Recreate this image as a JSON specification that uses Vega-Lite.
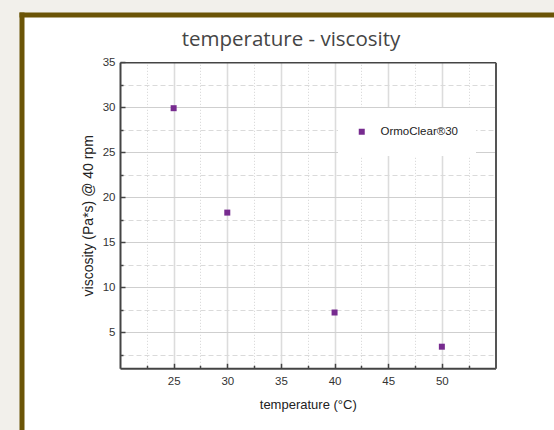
{
  "$schema": "https://vega.github.io/schema/vega-lite/v6.json",
  "width": 530,
  "height": 413,
  "autosize": {"type": "none"},
  "padding": {"left": 24, "top": 17, "right": 0, "bottom": 0},
  "background": "#f2f0eb",
  "title": {"text": "temperature - viscosity", "font": "Open Sans", "fontSize": 20.5, "fontWeight": "normal", "color": "#454545", "anchor": "middle", "frame": "group", "baseline": "alphabetic", "offset": -52, "dx": 2},
  "data": {"values": [
    {"temperature": 25, "viscosity": 29.9, "series": "OrmoClear®30"},
    {"temperature": 30, "viscosity": 18.3, "series": "OrmoClear®30"},
    {"temperature": 40, "viscosity": 7.2, "series": "OrmoClear®30"},
    {"temperature": 50, "viscosity": 3.4, "series": "OrmoClear®30"}
  ]},
  "resolve": {
    "scale": {"x": "independent", "y": "independent", "color": "independent"},
    "axis": {"x": "independent", "y": "independent"}
  },
  "layer": [
    {
      "mark": {"type": "point", "opacity": 0},
      "encoding": {
        "x": {"field": "temperature", "type": "quantitative",
          "scale": {"domain": [20, 55], "range": [96, 471.5], "nice": false, "zero": false},
          "axis": {"orient": "top", "offset": -351.3, "values": [25, 30, 35, 40, 45, 50], "domain": false, "labels": false, "ticks": true, "tickSize": 5, "tickColor": "#444444", "tickWidth": 1.5, "grid": true, "gridColor": "#dcdcdc", "gridWidth": 1.6, "title": null}},
        "y": {"field": "viscosity", "type": "quantitative",
          "scale": {"domain": [1, 35], "range": [351.3, 45.3], "nice": false, "zero": false},
          "axis": {"orient": "left", "offset": -96, "values": [5, 10, 15, 20, 25, 30, 35], "domain": true, "domainColor": "#444444", "domainWidth": 2, "ticks": false, "labels": true, "labelPadding": 5, "labelFont": "Liberation Sans", "labelFontSize": 11.5, "labelColor": "#333333", "grid": true, "gridColor": "#cfcfcf", "gridWidth": 1, "title": "viscosity (Pa*s) @ 40 rpm", "titleFont": "Liberation Sans", "titleFontSize": 14, "titleFontWeight": "normal", "titleColor": "#222222", "titlePadding": 7}}
      }
    },
    {
      "mark": {"type": "point", "opacity": 0},
      "encoding": {
        "x": {"field": "temperature", "type": "quantitative",
          "scale": {"domain": [20, 55], "range": [96, 471.5], "nice": false, "zero": false},
          "axis": {"orient": "top", "offset": -351.3, "values": [22.5, 27.5, 32.5, 37.5, 42.5, 47.5, 52.5], "domain": false, "labels": false, "ticks": true, "tickSize": 3, "tickColor": "#444444", "tickWidth": 1.5, "grid": true, "gridColor": "#d4d4d4", "gridWidth": 1, "gridDash": [1, 2], "title": null}},
        "y": {"field": "viscosity", "type": "quantitative",
          "scale": {"domain": [1, 35], "range": [351.3, 45.3], "nice": false, "zero": false},
          "axis": {"orient": "right", "offset": -434, "values": [5, 10, 15, 20, 25, 30, 35], "domain": false, "labels": false, "ticks": true, "tickSize": 5, "tickColor": "#444444", "tickWidth": 1.5, "grid": false, "title": null}}
      }
    },
    {
      "mark": {"type": "point", "opacity": 0},
      "encoding": {
        "x": {"field": "temperature", "type": "quantitative",
          "scale": {"domain": [20, 55], "range": [96, 471.5], "nice": false, "zero": false},
          "axis": {"orient": "bottom", "offset": -61.7, "values": [25, 30, 35, 40, 45, 50], "domain": true, "domainColor": "#444444", "domainWidth": 2, "ticks": false, "labels": true, "labelPadding": 7, "labelFont": "Liberation Sans", "labelFontSize": 11.5, "labelColor": "#333333", "grid": false, "title": "temperature (°C)", "titleFont": "Liberation Sans", "titleFontSize": 13, "titleFontWeight": "normal", "titleColor": "#222222", "titlePadding": 12}},
        "y": {"field": "viscosity", "type": "quantitative",
          "scale": {"domain": [1, 35], "range": [351.3, 45.3], "nice": false, "zero": false},
          "axis": {"orient": "left", "offset": -96, "values": [2.5, 7.5, 12.5, 17.5, 22.5, 27.5, 32.5], "domain": false, "labels": false, "ticks": false, "grid": true, "gridColor": "#dadada", "gridWidth": 1, "gridDash": [5, 3], "title": null}}
      }
    },
    {
      "mark": {"type": "point", "opacity": 0},
      "encoding": {
        "x": {"field": "temperature", "type": "quantitative",
          "scale": {"domain": [20, 55], "range": [96, 471.5], "nice": false, "zero": false},
          "axis": {"orient": "top", "offset": -45.3, "domain": true, "domainColor": "#444444", "domainWidth": 1.6, "labels": false, "ticks": false, "grid": false, "title": null}},
        "y": {"field": "viscosity", "type": "quantitative",
          "scale": {"domain": [1, 35], "range": [351.3, 45.3], "nice": false, "zero": false},
          "axis": {"orient": "right", "offset": -434, "values": [2.5, 7.5, 12.5, 17.5, 22.5, 27.5, 32.5], "domain": false, "labels": false, "ticks": true, "tickSize": 3, "tickColor": "#444444", "tickWidth": 1.5, "grid": false, "title": null}}
      }
    },
    {
      "mark": {"type": "point", "opacity": 0},
      "encoding": {
        "x": {"field": "temperature", "type": "quantitative",
          "scale": {"domain": [20, 55], "range": [96, 471.5], "nice": false, "zero": false},
          "axis": null},
        "y": {"field": "viscosity", "type": "quantitative",
          "scale": {"domain": [1, 35], "range": [351.3, 45.3], "nice": false, "zero": false},
          "axis": {"orient": "right", "offset": -58.5, "domain": true, "domainColor": "#555555", "domainWidth": 2, "labels": false, "ticks": false, "grid": false, "title": null}}
      }
    },
    {
      "mark": {"type": "point", "opacity": 0},
      "encoding": {
        "x": {"field": "temperature", "type": "quantitative",
          "scale": {"domain": [20, 55], "range": [-5, 560], "nice": false, "zero": false},
          "axis": {"orient": "top", "offset": 2.5, "domain": true, "domainColor": "#6b5406", "domainWidth": 5, "labels": false, "ticks": false, "grid": false, "title": null}},
        "y": {"field": "viscosity", "type": "quantitative",
          "scale": {"domain": [1, 35], "range": [440, -5], "nice": false, "zero": false},
          "axis": {"orient": "left", "offset": 2.5, "domain": true, "domainColor": "#6b5406", "domainWidth": 5, "labels": false, "ticks": false, "grid": false, "title": null}}
      }
    },
    {
      "mark": {"type": "point", "shape": "square", "filled": true, "size": 36, "opacity": 1},
      "encoding": {
        "x": {"field": "temperature", "type": "quantitative",
          "scale": {"domain": [20, 55], "range": [96, 471.5], "nice": false, "zero": false},
          "axis": null},
        "y": {"field": "viscosity", "type": "quantitative",
          "scale": {"domain": [1, 35], "range": [351.3, 45.3], "nice": false, "zero": false},
          "axis": null},
        "color": {"field": "series", "type": "nominal",
          "scale": {"domain": ["OrmoClear®30"], "range": ["#772b8f"]},
          "legend": {"orient": "none", "legendX": 314, "legendY": 91, "title": null, "symbolType": "square", "symbolSize": 36, "labelFont": "Liberation Sans", "labelFontSize": 11.5, "labelColor": "#222222", "labelOffset": 13, "padding": 18, "fillColor": "white", "strokeColor": null}}
      }
    }
  ],
  "config": {
    "view": {"fill": "white", "stroke": null},
    "axis": {"labelFont": "Liberation Sans", "titleFont": "Liberation Sans"}
  }
}
